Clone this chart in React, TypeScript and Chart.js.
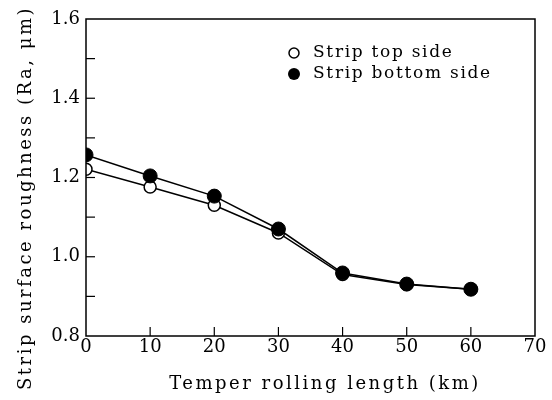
import React, { useEffect, useRef } from "react";
import { Chart, registerables } from "chart.js";

Chart.register(...registerables);

const lengthKm = [0, 10, 20, 30, 40, 50, 60];
const topSide = [1.221, 1.176, 1.13, 1.06, 0.955, 0.93, 0.918];
const bottomSide = [1.257, 1.204, 1.153, 1.07, 0.959, 0.931, 0.918];
const legendLabels = ["Strip top side", "Strip bottom side"];
const xTitle = "Temper rolling length (km)";
const yTitle = "Strip surface roughness (Ra, \u03bcm)";

const FONT = "'DejaVu Serif', serif";

const framePlugin = {
  id: "frame",
  beforeLayout(chart: any) {
    chart.ctx.letterSpacing = "0px";
  },
  beforeDraw(chart: any) {
    chart.ctx.letterSpacing = "0px";
  },
  afterDatasetsDraw(chart: any) {
    const { ctx, chartArea, scales } = chart;
    const { left, right, top, bottom } = chartArea;
    ctx.save();
    ctx.strokeStyle = "#000";
    ctx.lineWidth = 1.5;
    ctx.strokeRect(left, top, right - left, bottom - top);
    ctx.lineWidth = 1.2;
    for (let v = 0.9; v < 1.6; v += 0.1) {
      const y = scales.y.getPixelForValue(v);
      ctx.beginPath();
      ctx.moveTo(left, y);
      ctx.lineTo(left + 9, y);
      ctx.stroke();
    }
    for (let v = 10; v < 70; v += 10) {
      const x = scales.x.getPixelForValue(v);
      ctx.beginPath();
      ctx.moveTo(x, bottom);
      ctx.lineTo(x, bottom - 9);
      ctx.stroke();
    }
    // legend
    ctx.letterSpacing = "1.7px";
    ctx.font = `17px ${FONT}`;
    ctx.textBaseline = "middle";
    const lx = 294;
    const rows = [53, 74];
    legendLabels.forEach((lab, i) => {
      const y = rows[i];
      ctx.beginPath();
      ctx.arc(lx, y, i === 0 ? 5 : 6, 0, Math.PI * 2);
      if (i === 0) {
        ctx.fillStyle = "#fff";
        ctx.fill();
        ctx.lineWidth = 1.5;
        ctx.stroke();
      } else {
        ctx.fillStyle = "#000";
        ctx.fill();
      }
      ctx.fillStyle = "#000";
      ctx.textAlign = "left";
      ctx.fillText(lab, 313, y);
    });
    // axis titles
    ctx.letterSpacing = "2.5px";
    ctx.font = `18px ${FONT}`;
    ctx.textAlign = "center";
    ctx.textBaseline = "middle";
    ctx.fillText(xTitle, 325, 384);
    ctx.save();
    ctx.translate(26, 198);
    ctx.rotate(-Math.PI / 2);
    ctx.fillText(yTitle, 0, 0);
    ctx.restore();
    ctx.letterSpacing = "0px";
    ctx.restore();
  },
};

export default function App() {
  const ref = useRef<HTMLCanvasElement>(null);
  useEffect(() => {
    if (!ref.current) return;
    const chart = new Chart(ref.current, {
      type: "line",
      data: {
        labels: lengthKm,
        datasets: [
          {
            label: legendLabels[0],
            data: lengthKm.map((x, i) => ({ x, y: topSide[i] })),
            borderColor: "#000",
            borderWidth: 1.5,
            pointBackgroundColor: "#fff",
            pointBorderColor: "#000",
            pointBorderWidth: 1.5,
            pointRadius: 6,
            order: 2,
          },
          {
            label: legendLabels[1],
            data: lengthKm.map((x, i) => ({ x, y: bottomSide[i] })),
            borderColor: "#000",
            borderWidth: 1.5,
            pointBackgroundColor: "#000",
            pointBorderColor: "#000",
            pointBorderWidth: 1,
            pointRadius: 7,
            order: 1,
          },
        ],
      },
      options: {
        animation: false,
        responsive: false,
        layout: { padding: { top: 19, right: 17, left: 0, bottom: 0 } },
        plugins: { legend: { display: false }, tooltip: { enabled: false } },
        scales: {
          x: {
            type: "linear",
            min: 0,
            max: 70,
            ticks: { stepSize: 10, color: "#000", font: { family: FONT, size: 18 }, padding: 1 },
            grid: { display: false, drawTicks: false },
            border: { display: false },
            afterFit(s: any) {
              s.height = 64;
            },
          },
          y: {
            min: 0.8,
            max: 1.6,
            ticks: {
              stepSize: 0.2,
              color: "#000",
              font: { family: FONT, size: 18 },
              padding: 6,
              callback: (v: any) => Number(v).toFixed(1),
            },
            grid: { display: false, drawTicks: false },
            border: { display: false },
            afterFit(s: any) {
              s.width = 86;
            },
          },
        },
      },
      plugins: [framePlugin],
    });
    return () => chart.destroy();
  }, []);
  return (
    <div style={{ position: "absolute", left: 0, top: 0, width: 552, height: 400, background: "#fff" }}>
      <canvas ref={ref} width={552} height={400} />
    </div>
  );
}
